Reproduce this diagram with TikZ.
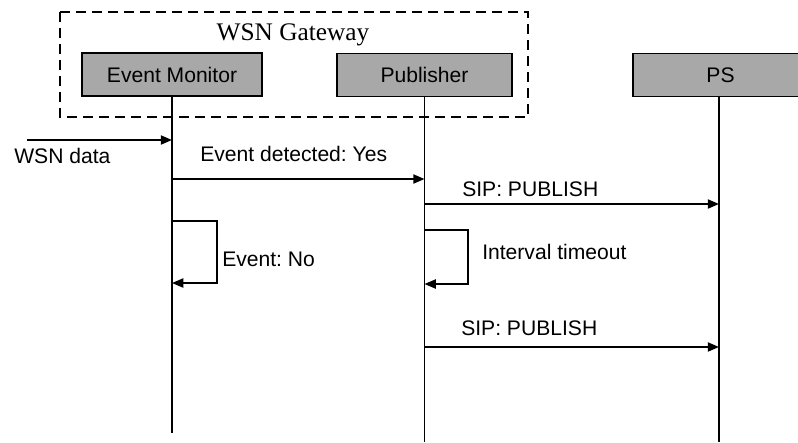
\documentclass[tikz,border=0pt]{standalone}
\usepackage{fontspec}
\setmainfont{Liberation Sans}
\newfontfamily\gatewayfont{Liberation Serif}
\usetikzlibrary{positioning,arrows.meta}
\definecolor{boxgray}{RGB}{168,168,168}
\frenchspacing

\begin{document}
\begin{tikzpicture}[x=0.025cm,y=-0.025cm,
  actor/.style={draw,line width=1.1pt,fill=boxgray,minimum height=1.075cm,inner sep=0pt,
                font=\fontsize{15}{18}\selectfont},
  life/.style={line width=1pt},
  msg/.style={line width=1.3pt,-{Triangle[length=8pt,width=6.5pt]}},
  selfmsg/.style={line width=1.1pt,-{Triangle[length=8pt,width=6.5pt]}},
  lbl/.style={anchor=west,inner sep=0pt,font=\fontsize{15}{18}\selectfont},
  frame/.style={line width=0.9pt,dash pattern=on 0.25cm off 0.15cm}]
  \clip (0,0) rectangle (798,442);
  % gateway frame
  \draw[frame] (60,12) rectangle (528,117);
  \node[font=\gatewayfont\fontsize{18}{21}\selectfont] (gw) at (293,35) {WSN Gateway};
  % actors and lifelines
  \node[actor,minimum width=4.5cm]   (mon) at (172,74.5) {Event Monitor};
  \node[actor,minimum width=4.375cm] (pub) at (424.5,75) {Publisher};
  \node[actor,minimum width=4.375cm] (ps)  at (720.5,75) {PS};
  \coordinate (monend) at (172,433);
  \coordinate (pubend) at (424.5,442);
  \coordinate (psend)  at (719,442);
  \draw[life] (mon) -- (monend);
  \draw[life] (pub) -- (pubend);
  \draw[life] (719,97) -- (psend);
  % messages
  \coordinate (src) at (27,140);  \coordinate (m0) at (172,140);
  \draw[msg] (src) -- (m0);
  \node[lbl] (wsn) at (14,156) {WSN data};
  \coordinate (m1a) at (172,179); \coordinate (m1b) at (424.5,179);
  \draw[msg] (m1a) -- (m1b);
  \node[lbl] (evy) at (200,154) {Event detected: Yes};
  \coordinate (m2a) at (424.5,204); \coordinate (m2b) at (719,204);
  \draw[msg] (m2a) -- (m2b);
  \node[lbl] (sip1) at (462,189) {SIP: PUBLISH};
  \coordinate (l1a) at (172,221); \coordinate (l1b) at (172,283);
  \draw[selfmsg] (l1a) -- ++(45,0) |- (l1b);
  \node[lbl] (evn) at (222,259) {Event: No};
  \coordinate (l2a) at (424.5,230); \coordinate (l2b) at (424.5,284);
  \draw[selfmsg] (l2a) -- ++(43.5,0) |- (l2b);
  \node[lbl] (tmo) at (482,252) {Interval timeout};
  \coordinate (m3a) at (424.5,347); \coordinate (m3b) at (719,347);
  \draw[msg] (m3a) -- (m3b);
  \node[lbl] (sip2) at (461,328) {SIP: PUBLISH};
\end{tikzpicture}
\end{document}
